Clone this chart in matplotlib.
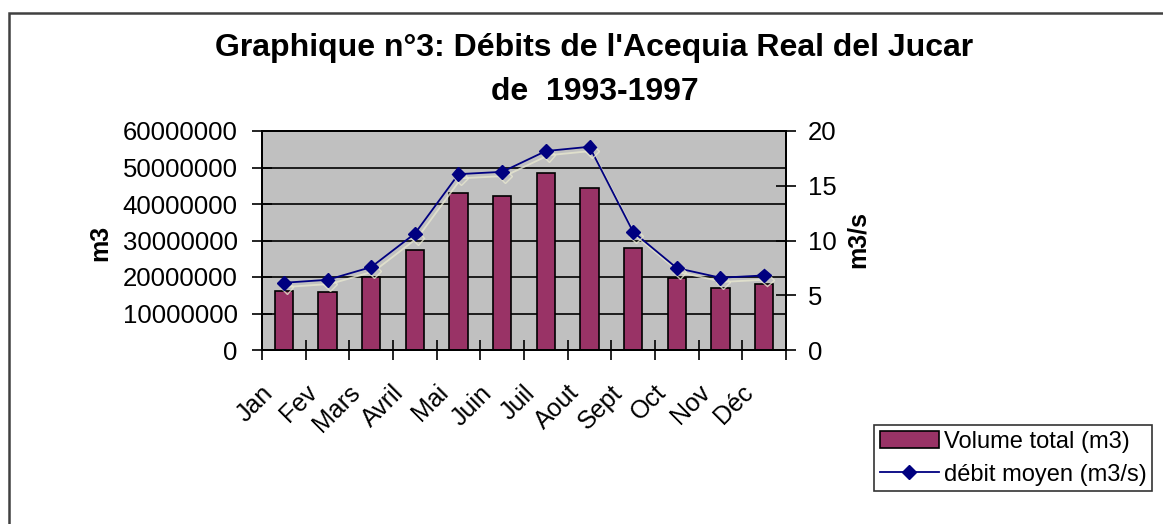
import matplotlib
matplotlib.use('Agg')
import matplotlib.pyplot as plt
import matplotlib.transforms as mtransforms
import matplotlib.patheffects as pe
from matplotlib.patches import Rectangle
from matplotlib.lines import Line2D
from matplotlib.ticker import FuncFormatter
import numpy as np

plt.rcParams['font.family'] = ['Liberation Sans', 'DejaVu Sans']

# données
mois = ['Jan', 'Fev', 'Mars', 'Avril', 'Mai', 'Juin', 'Juil', 'Aout', 'Sept', 'Oct', 'Nov', 'Déc']
volume = [16.3e6, 15.8e6, 20.1e6, 27.5e6, 43.0e6, 42.3e6, 48.5e6, 44.5e6, 28.0e6, 19.8e6, 16.9e6, 18.1e6]
debit = [6.14, 6.41, 7.57, 10.63, 16.06, 16.27, 18.17, 18.56, 10.78, 7.48, 6.60, 6.81]
vol_ticks = [0, 10000000, 20000000, 30000000, 40000000, 50000000, 60000000]
deb_ticks = [0, 5, 10, 15, 20]

W, H = 1163, 524
fig = plt.figure(figsize=(W/100, H/100), dpi=100)
fig.patch.set_facecolor('white')

# cadre du graphique (seuls bord haut et gauche visibles)
fig.patches.append(Rectangle((9/W, -0.1), 1.2, (H-13)/H + 0.1, transform=fig.transFigure,
                             fill=False, edgecolor='#404040', lw=1.8))

ax = fig.add_axes([262/W, 1-350/H, (786-262)/W, (350-131)/H])
ax.set_facecolor('#c0c0c0')
x = np.arange(len(mois)) + 0.5
ax.bar(x, volume, width=0.42, color='#993366', edgecolor='black', lw=1.2, zorder=3,
       label='Volume total (m3)')
ax.set_xlim(0, 12)
ax.set_ylim(0, 60000000)
ax.set_yticks(vol_ticks)
ax.yaxis.set_major_formatter(FuncFormatter(lambda v, p: '%d' % v))
ax.grid(axis='y', color='black', lw=1.2, zorder=1)
ax.set_axisbelow(True)
ax.set_xticks(np.arange(13))
ax.set_xticklabels([])
ax.set_xticks(x, labels=mois, minor=True)
ax.tick_params(axis='x', which='major', direction='inout', length=15, width=1.2)
ax.tick_params(axis='x', which='minor', length=0, labelsize=18, pad=22)
ax.tick_params(axis='y', direction='inout', length=15, width=1.2, labelsize=18.5, pad=10)
offset = mtransforms.ScaledTranslation(-0.06, 0, fig.dpi_scale_trans)
for lab in ax.get_xticklabels(minor=True):
    lab.set_rotation(45)
    lab.set_ha('right')
    lab.set_va('top')
    lab.set_transform(lab.get_transform() + offset)
for s in ax.spines.values():
    s.set_color('black')
    s.set_linewidth(1.4)

ax2 = ax.twinx()
ax2.plot(x, debit, color='#000080', lw=1.3, marker='D', markersize=7,
         markerfacecolor='#000080', markeredgecolor='#000080', zorder=5,
         path_effects=[pe.SimpleLineShadow(offset=(2, -3), shadow_color='#e8e8d0', alpha=0.8),
                       pe.Normal()])
ax2.set_ylim(0, 20)
ax2.set_yticks(deb_ticks)
ax2.tick_params(axis='y', direction='inout', length=15, width=1.2, labelsize=18.5, pad=8)
for s in ax2.spines.values():
    s.set_color('black')
    s.set_linewidth(1.4)

fig.text(594/W, 1-48/H, "Graphique n°3: Débits de l'Acequia Real del Jucar",
         ha='center', va='center', fontsize=23, fontweight='bold')
fig.text(595/W, 1-92/H, "de  1993-1997", ha='center', va='center',
         fontsize=23, fontweight='bold')
fig.text(100/W, 1-243/H, 'm3', rotation=90, ha='center', va='center',
         fontsize=18, fontweight='bold')
fig.text(858/W, 1-240/H, 'm3/s', rotation=90, ha='center', va='center',
         fontsize=18, fontweight='bold')

h1, l1 = ax.get_legend_handles_labels()
h2 = [Line2D([], [], color='#000080', lw=1.3, marker='D', markersize=7)]
l2 = ['débit moyen (m3/s)']
leg = fig.legend(h1 + h2, l1 + l2, loc='upper left', bbox_to_anchor=(874/W, 1-425/H),
                 fontsize=17, frameon=True, fancybox=False, borderpad=0.25,
                 handlelength=2.5, handletextpad=0.2, labelspacing=0.45, borderaxespad=0)
leg.get_frame().set_edgecolor('black')
leg.get_frame().set_linewidth(1.2)

fig.savefig('out.png', dpi=100)
